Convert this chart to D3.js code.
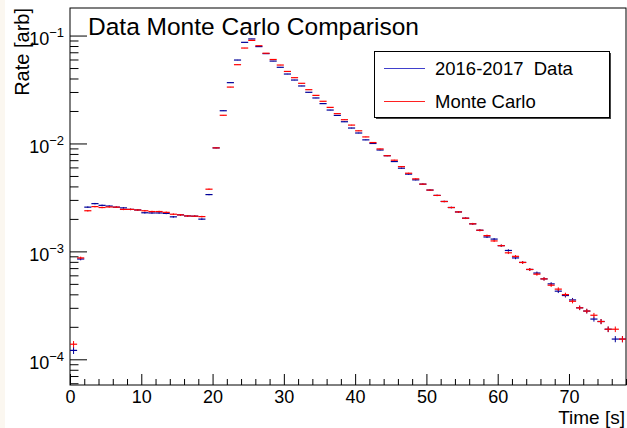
<!DOCTYPE html>
<html>
<head>
<meta charset="utf-8">
<script src="https://cdn.jsdelivr.net/npm/d3@7"></script>
<style>
  body { margin: 0; background: #fff; }
  svg { display: block; font-family: "Liberation Sans", Arial, sans-serif; }
  .axis path.domain { display: none; }
  .axis line { stroke: #000; }
</style>
</head>
<body>
<div id="graph1"></div>
<script>
// canvas size
var w = 627;
var h = 428;

// bin edges (1 s bins from 0 to 78 s)
var binStart = 0;
var binEnd = 78;

// 2016-2017 data, rate per bin
var dataRate = [
  1.21e-4, 8.5e-4, 2.57e-3, 2.77e-3, 2.67e-3, 2.63e-3, 2.57e-3, 2.53e-3, 2.45e-3, 2.42e-3,
  2.28e-3, 2.27e-3, 2.27e-3, 2.25e-3, 2.09e-3, 2.18e-3, 2.13e-3, 2.12e-3, 1.99e-3, 3.36e-3,
  9.1e-3, 0.0201, 0.0366, 0.0593, 0.0865, 0.093, 0.079, 0.068, 0.058, 0.0508,
  0.044, 0.0387, 0.0341, 0.0298, 0.0264, 0.0234, 0.0204, 0.0182, 0.0159, 0.0139,
  0.0125, 0.0108, 0.0100, 0.0087, 0.0077, 0.0068, 0.0059, 0.0052, 0.0046, 0.0042,
  0.0037, 0.0033, 0.0029, 0.00255, 0.00232, 0.00203, 0.0018, 0.00157, 0.00136, 0.0013,
  0.00113, 1.02e-3, 8.7e-4, 7.9e-4, 6.8e-4, 6.3e-4, 5.56e-4, 5.0e-4, 4.28e-4, 3.9e-4,
  3.55e-4, 3.0e-4, 2.8e-4, 2.36e-4, 2.24e-4, 1.9e-4, 1.54e-4, 1.54e-4
];

// Monte Carlo, rate per bin
var mcRate = [
  1.38e-4, 8.7e-4, 2.38e-3, 2.6e-3, 2.55e-3, 2.58e-3, 2.57e-3, 2.45e-3, 2.45e-3, 2.42e-3,
  2.38e-3, 2.34e-3, 2.34e-3, 2.3e-3, 2.21e-3, 2.18e-3, 2.13e-3, 2.12e-3, 2.1e-3, 3.77e-3,
  9.1e-3, 0.01825, 0.0333, 0.0537, 0.0766, 0.0902, 0.0805, 0.0686, 0.060, 0.0533,
  0.0465, 0.0407, 0.0361, 0.0315, 0.0279, 0.0246, 0.0216, 0.0189, 0.0166, 0.0148,
  0.0131, 0.0115, 0.0102, 0.0089, 0.0077, 0.0070, 0.0061, 0.0053, 0.0047, 0.0042,
  0.0037, 0.0033, 0.0029, 0.00255, 0.00232, 0.00203, 0.0018, 0.00157, 0.0014, 0.00125,
  0.00113, 9.7e-4, 9.0e-4, 7.9e-4, 6.8e-4, 6.15e-4, 5.56e-4, 4.86e-4, 4.47e-4, 3.98e-4,
  3.45e-4, 3.0e-4, 2.8e-4, 2.56e-4, 2.24e-4, 1.9e-4, 1.9e-4, 1.54e-4
];

// normalisation used for the statistical error bars (err = sqrt(N*r)/N)
var nEvents = 1.5e6;

var xMajorTicks = [0, 10, 20, 30, 40, 50, 60, 70];
var yMajorTicks = [1e-4, 1e-3, 1e-2, 1e-1];
var legendNames = ["2016-2017  Data", "Monte Carlo"];
var colors = ["#000099", "#ff0000"];
var legendColors = ["#4040cc", "#ff2020"];

var svg = d3.select("#graph1")
    .append("svg")
    .attr("width", w)
    .attr("height", h);

// faint canvas strip on the far left
svg.append("rect")
    .attr("x", 0).attr("y", 0)
    .attr("width", 5).attr("height", h)
    .attr("fill", "#fbf7f0");

//Create scale functions
var xScale = d3.scaleLinear()
    .domain([binStart, binEnd])
    .range([70, 626]);

var yScale = d3.scaleLog()
    .domain([5.78e-5, 0.18])
    .range([385, 8]);

// minor ticks
var xMinor = d3.range(binStart, binEnd + 0.001, 2).filter(function (d) { return d % 10 != 0; });
var yMinor = [];
[-5, -4, -3, -2, -1].forEach(function (e) {
    for (var k = 2; k <= 9; k++) {
        var v = k * Math.pow(10, e);
        if (v > yScale.domain()[0] && v < yScale.domain()[1]) yMinor.push(v);
    }
});

//X axis
svg.append("g")
    .attr("class", "axis")
    .attr("transform", "translate(0,385)")
    .call(d3.axisBottom(xScale).tickValues(xMinor).tickSizeInner(-6).tickSizeOuter(0).tickFormat(""));

var xAxisG = svg.append("g")
    .attr("class", "axis")
    .attr("transform", "translate(0,385)")
    .call(d3.axisBottom(xScale).tickValues(xMajorTicks).tickSizeInner(-11).tickSizeOuter(0).tickPadding(5));
xAxisG.selectAll("text")
    .attr("font-size", "18px")
    .attr("font-family", "Liberation Sans, Arial, sans-serif")
    .attr("fill", "#000");

//Y axis
svg.append("g")
    .attr("class", "axis")
    .attr("transform", "translate(70,0)")
    .call(d3.axisLeft(yScale).tickValues(yMinor).tickSizeInner(-8.5).tickSizeOuter(0).tickFormat(""));

var yAxisG = svg.append("g")
    .attr("class", "axis")
    .attr("transform", "translate(70,0)")
    .call(d3.axisLeft(yScale).tickValues(yMajorTicks).tickSizeInner(-17).tickSizeOuter(0).tickFormat(""));

// power-of-ten labels
yAxisG.selectAll(".tick")
    .append("text")
    .attr("x", -6)
    .attr("y", 9)
    .attr("text-anchor", "end")
    .attr("fill", "#000")
    .attr("font-family", "Liberation Sans, Arial, sans-serif")
    .attr("font-size", "18px")
    .each(function (d) {
        var t = d3.select(this);
        t.append("tspan").text("10");
        t.append("tspan")
            .attr("dy", -8)
            .attr("font-size", "13px")
            .text("\u2212" + Math.round(-Math.log10(d)));
    });

// frame
svg.append("rect")
    .attr("x", 70).attr("y", 8)
    .attr("width", 556).attr("height", 377)
    .attr("fill", "none")
    .attr("stroke", "#000")
    .attr("stroke-width", 1);

// axis titles
svg.append("text")
    .attr("x", 625)
    .attr("y", 424)
    .attr("text-anchor", "end")
    .attr("font-size", "19px")
    .text("Time [s]");

svg.append("text")
    .attr("transform", "translate(29,8) rotate(-90)")
    .attr("text-anchor", "end")
    .attr("font-size", "20px")
    .text("Rate [arb]");

// histograms: horizontal bin bar + vertical error bar
function drawHist(values, color) {
    var g = svg.append("g");
    var bins = values.map(function (v, i) {
        var err = Math.sqrt(nEvents * v) / nEvents;
        return { lo: binStart + i, hi: binStart + i + 1, v: v, err: err };
    });
    g.selectAll("line.h")
        .data(bins)
        .enter()
        .append("line")
        .attr("x1", function (d) { return xScale(d.lo); })
        .attr("x2", function (d) { return xScale(d.hi); })
        .attr("y1", function (d) { return yScale(d.v); })
        .attr("y2", function (d) { return yScale(d.v); })
        .attr("stroke", color)
        .attr("stroke-width", 1.2);
    g.selectAll("line.v")
        .data(bins)
        .enter()
        .append("line")
        .attr("x1", function (d) { return xScale((d.lo + d.hi) / 2); })
        .attr("x2", function (d) { return xScale((d.lo + d.hi) / 2); })
        .attr("y1", function (d) { return yScale(d.v - d.err); })
        .attr("y2", function (d) { return yScale(d.v + d.err); })
        .attr("stroke", color)
        .attr("stroke-width", 1);
}
drawHist(dataRate, colors[0]);
drawHist(mcRate, colors[1]);

// title
svg.append("text")
    .attr("x", 88)
    .attr("y", 35)
    .attr("font-size", "24.5px")
    .text("Data Monte Carlo Comparison");

// legend with a thin shadow
var leg = svg.append("g");
leg.append("rect")
    .attr("x", 376).attr("y", 53)
    .attr("width", 235).attr("height", 66)
    .attr("fill", "#444");
leg.append("rect")
    .attr("x", 374.5).attr("y", 51.5)
    .attr("width", 235).attr("height", 66)
    .attr("fill", "#fff")
    .attr("stroke", "#000")
    .attr("stroke-width", 1);

leg.selectAll("line.leg")
    .data(legendColors)
    .enter()
    .append("line")
    .attr("x1", 384)
    .attr("x2", 425)
    .attr("y1", function (d, i) { return 68.5 + i * 33; })
    .attr("y2", function (d, i) { return 68.5 + i * 33; })
    .attr("stroke", function (d) { return d; })
    .attr("stroke-width", 1);

leg.selectAll("text")
    .data(legendNames)
    .enter()
    .append("text")
    .attr("x", 435)
    .attr("y", function (d, i) { return 75 + i * 33; })
    .attr("font-size", "18.5px")
    .style("white-space", "pre")
    .text(function (d) { return d; });
</script>
</body>
</html>
